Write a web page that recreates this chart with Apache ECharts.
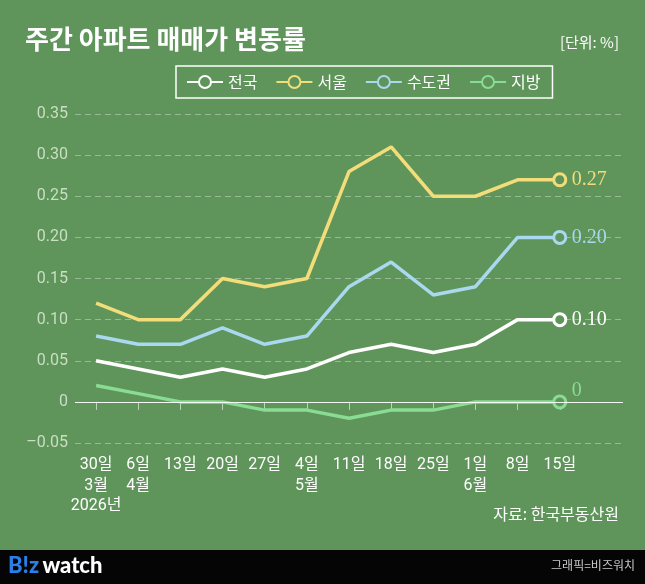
<!DOCTYPE html>
<html>
<head>
<meta charset="utf-8">
<script src="https://cdn.jsdelivr.net/npm/echarts@6/dist/echarts.min.js"></script>
<style>
  html, body { margin: 0; padding: 0; background: #5f955a; }
  #chart { width: 645px; height: 584px; }
</style>
</head>
<body>
<div id="chart"></div>
<script>
// 데이터 (단위: %)
var weeks = ['30일\n3월\n2026년', '6일\n4월', '13일', '20일', '27일', '4일\n5월', '11일', '18일', '25일', '1일\n6월', '8일', '15일'];
var national = [0.05, 0.04, 0.03, 0.04, 0.03, 0.04, 0.06, 0.07, 0.06, 0.07, 0.10, 0.10];
var seoul = [0.12, 0.10, 0.10, 0.15, 0.14, 0.15, 0.28, 0.31, 0.25, 0.25, 0.27, 0.27];
var capital = [0.08, 0.07, 0.07, 0.09, 0.07, 0.08, 0.14, 0.17, 0.13, 0.14, 0.20, 0.20];
var region = [0.02, 0.01, 0, 0, -0.01, -0.01, -0.02, -0.01, -0.01, 0, 0, 0];

var BG = '#5f955a';
var FONT = "Roboto, 'Noto Sans CJK KR', sans-serif";
var KFONT = "'Noto Sans CJK KR', sans-serif";

var chart = echarts.init(document.getElementById('chart'));

function fmt(v) {
    if (Math.abs(v) < 1e-9) return '0';
    return (v < 0 ? '–' : '') + Math.abs(v).toFixed(2);
}

function makeSeries(name, data, color, labelOffset) {
    var last = data.length - 1;
    return {
        name: name,
        type: 'line',
        data: data,
        symbol: 'circle',
        symbolSize: function (v, p) { return p.dataIndex === last ? 12 : 0; },
        lineStyle: { color: color, width: 3.5 },
        itemStyle: { color: BG, borderColor: color, borderWidth: 3 },
        emphasis: { disabled: true },
        endLabel: {
            show: true,
            formatter: function (p) { return fmt(p.value); },
            color: color,
            fontFamily: "'Liberation Serif', 'DejaVu Serif', serif",
            fontSize: 20,
            distance: 12,
            offset: labelOffset || [0, 0]
        }
    };
}

var s0 = makeSeries('전국', national, '#ffffff');
s0.markLine = {
    silent: true,
    symbol: 'none',
    label: { show: false },
    lineStyle: { color: '#ffffff', width: 1, type: 'solid', opacity: 0.9 },
    data: [{ yAxis: 0 }]
};

var option = {
    backgroundColor: BG,
    animation: false,
    grid: { left: 75, right: 22, top: 114, bottom: 141 },
    legend: {
        left: 176,
        top: 66,
        padding: [8, 12, 8, 10],
        borderColor: '#ffffff',
        borderWidth: 1.5,
        itemWidth: 36,
        itemHeight: 15,
        itemGap: 18,
        textStyle: { color: '#ffffff', fontSize: 16, fontFamily: KFONT },
        data: ['전국', '서울', '수도권', '지방']
    },
    xAxis: {
        type: 'category',
        data: weeks.concat(['']),
        boundaryGap: true,
        axisLine: { show: false },
        axisTick: {
            show: true,
            alignWithLabel: true,
            length: 8,
            interval: function (i) { return i < weeks.length; },
            lineStyle: { color: 'rgba(255,255,255,0.6)' }
        },
        axisLabel: {
            color: '#ffffff',
            fontSize: 16,
            lineHeight: 20.5,
            margin: 12,
            fontFamily: FONT,
            interval: 0
        }
    },
    yAxis: {
        type: 'value',
        min: -0.05,
        max: 0.35,
        interval: 0.05,
        axisLine: { show: false },
        axisTick: { show: false },
        axisLabel: {
            color: '#c9dfc3',
            fontSize: 16,
            margin: 7,
            fontFamily: FONT,
            formatter: fmt
        },
        splitLine: {
            lineStyle: { color: 'rgba(255,255,255,0.35)', type: [6, 4], width: 1 }
        }
    },
    series: [
        s0,
        makeSeries('서울', seoul, '#f2dd7a'),
        makeSeries('수도권', capital, '#a9d8ef'),
        makeSeries('지방', region, '#8adb94', [0, -11])
    ],
    graphic: [
        {
            type: 'text', left: 25, top: 26,
            style: { text: '주간 아파트 매매가 변동률', fill: '#ffffff', font: "bold 26px 'Noto Sans CJK KR'" }
        },
        {
            type: 'text', right: 26, top: 35,
            style: { text: '[단위: %]', fill: '#ffffff', font: "15px 'Noto Sans CJK KR'" }
        },
        {
            type: 'text', right: 26, top: 506,
            style: { text: '자료: 한국부동산원', fill: '#ffffff', font: "16px 'Noto Sans CJK KR'" }
        },
        {
            type: 'rect', left: 0, top: 550,
            shape: { width: 645, height: 34 },
            style: { fill: '#050505' }
        },
        {
            type: 'text', left: 8, top: 555,
            style: {
                text: '{b|B!z} {w|watch}',
                rich: {
                    b: { fill: '#2b7fe8', font: "900 22px Lato, Roboto, sans-serif" },
                    w: { fill: '#ffffff', font: "900 22px Lato, Roboto, sans-serif" }
                }
            }
        },
        {
            type: 'text', right: 10, top: 559,
            style: { text: '그래픽=비즈워치', fill: '#c8c8c8', font: "12px 'Noto Sans CJK KR'" }
        }
    ]
};

chart.setOption(option);
</script>
</body>
</html>
